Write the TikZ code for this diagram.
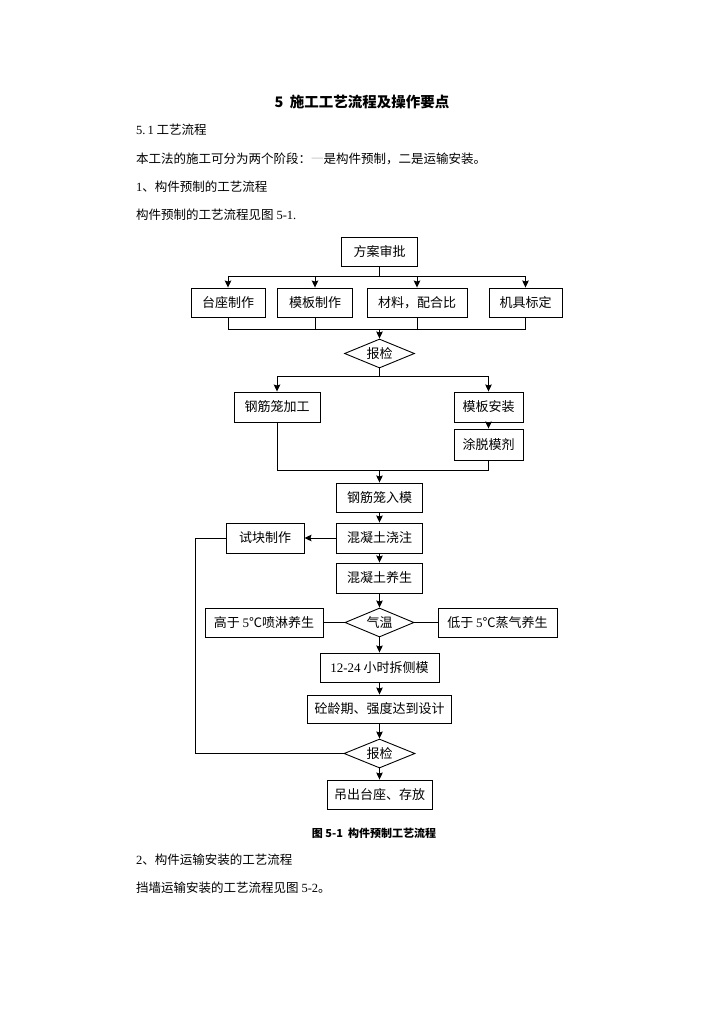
\documentclass[tikz,border=0pt]{standalone}
\usepackage{fontspec}
\setmainfont{Noto Sans CJK SC}
\newfontfamily\tnr{Liberation Serif}
\usetikzlibrary{shapes.geometric,arrows.meta,positioning}

\begin{document}
\begin{tikzpicture}[x=1pt, y=1pt, node distance=41pt, auto]
    \tikzstyle{process} = [rectangle, draw, line width=0.9pt, minimum height=29pt, inner sep=0pt, font=\fontsize{13pt}{15pt}\selectfont]
    \tikzstyle{decision} = [diamond, draw, line width=0.9pt, aspect=2.4, minimum width=70pt, minimum height=29pt, inner sep=0pt, font=\fontsize{13pt}{15pt}\selectfont]
    \tikzstyle{arrow} = [line width=0.9pt, -{Stealth[length=7pt,width=6.5pt,inset=1pt]}]
    \tikzstyle{line} = [line width=0.9pt]
    \tikzstyle{para} = [anchor=west, inner sep=0pt, font=\fontsize{12.5pt}{15pt}\selectfont]

    \useasboundingbox (0,0) rectangle (724,-1024);
    \fill [white] (0,0) rectangle (724,-1024);

    % Heading and text above the chart
    \node [font=\bfseries\fontsize{14.5pt}{17pt}\selectfont] (title) at (362,-102) {5\ \ 施工工艺流程及操作要点};
    \node [para] (sec) at (136,-130) {{\tnr 5.\,1} 工艺流程};
    \node [para] (intro) at (136,-159) {本工法的施工可分为两个阶段：{\color{black!20}一}是构件预制，二是运输安装。};
    \node [para] (step1) at (136,-187) {{\tnr 1}、构件预制的工艺流程};
    \node [para] (ref1) at (136,-215) {构件预制的工艺流程见图 {\tnr 5-1.}};

    % Preparation
    \node [process, minimum width=76pt] (plan) at (379.5,-251.5) {方案审批};
    \node [process, minimum width=74pt, node distance=51pt, below of=plan, xshift=-151.5pt] (taizuo) {台座制作};
    \node [process, minimum width=75pt, node distance=51pt, below of=plan, xshift=-64.5pt] (muban) {模板制作};
    \node [process, minimum width=100pt, node distance=51pt, below of=plan, xshift=37.5pt] (cailiao) {材料，配合比};
    \node [process, minimum width=73pt, node distance=51pt, below of=plan, xshift=146pt] (jiju) {机具标定};

    % First check
    \node [decision, node distance=102pt, below of=plan] (check1) {报检};

    % Cage and formwork
    \node [process, minimum width=86pt, minimum height=30pt, node distance=53.5pt, below of=check1, xshift=-102.5pt] (gangjin) {钢筋笼加工};
    \node [process, minimum width=69pt, minimum height=30pt, node distance=53.5pt, below of=check1, xshift=109pt] (anzhuang) {模板安装};
    \node [process, minimum width=69pt, minimum height=31pt, node distance=37.5pt, below of=anzhuang] (tuomo) {涂脱模剂};

    % Casting and curing
    \node [process, minimum width=86pt, node distance=144pt, below of=check1] (rumo) {钢筋笼入模};
    \node [process, minimum width=86pt, minimum height=30pt, node distance=40.5pt, below of=rumo] (jiaozhu) {混凝土浇注};
    \node [process, minimum width=78pt, minimum height=30pt, node distance=114.5pt, left of=jiaozhu] (shikuai) {试块制作};
    \node [process, minimum width=86pt, minimum height=30pt, node distance=40pt, below of=jiaozhu] (yangsheng) {混凝土养生};
    \node [decision, minimum width=69pt, node distance=44.5pt, below of=yangsheng] (qiwen) {气温};
    \node [process, minimum width=118pt, node distance=115.5pt, left of=qiwen] (gaoyu) {高于 {\tnr 5}℃喷淋养生};
    \node [process, minimum width=119pt, node distance=118pt, right of=qiwen] (diyu) {低于 {\tnr 5}℃蒸气养生};

    % Stripping and final check
    \node [process, minimum width=119pt, node distance=45pt, below of=qiwen] (chaimo) {{\tnr 12-24} 小时拆侧模};
    \node [process, minimum width=144pt, minimum height=28pt, node distance=41.5pt, below of=chaimo] (qiangdu) {砼龄期、强度达到设计};
    \node [decision, minimum width=71pt, node distance=44.5pt, below of=qiangdu] (check2) {报检};
    \node [process, minimum width=105pt, node distance=41pt, below of=check2] (diaochu) {吊出台座、存放};

    % Caption and text below the chart
    \node [font=\bfseries\fontsize{11pt}{13pt}\selectfont] (caption) at (374,-833) {图\ 5-1\ \ 构件预制工艺流程};
    \node [para] (step2) at (136,-860) {{\tnr 2}、构件运输安装的工艺流程};
    \node [para] (ref2) at (136,-888) {挡墙运输安装的工艺流程见图 {\tnr 5-2}。};

    % Split and merge points
    \coordinate [node distance=24.5pt, below of=plan] (split1);
    \coordinate [node distance=24.5pt, above of=check1] (merge1);
    \coordinate [node distance=22.5pt, below of=check1] (split2);
    \coordinate [node distance=27.5pt, above of=rumo] (merge2);
    \coordinate [node distance=184.5pt, left of=check2] (back);

    % Arrows
    \draw [line] (plan) -- (split1);
    \draw [arrow] (split1) -| (taizuo);
    \draw [arrow] (split1) -| (muban);
    \draw [arrow] (split1) -| (cailiao);
    \draw [arrow] (split1) -| (jiju);
    \draw [line] (taizuo) |- (merge1);
    \draw [line] (jiju) |- (merge1);
    \draw [line] (muban) -- (muban |- merge1);
    \draw [line] (cailiao) -- (cailiao |- merge1);
    \draw [arrow] (merge1) -- (check1);
    \draw [line] (check1) -- (split2);
    \draw [arrow] (split2) -| (gangjin);
    \draw [arrow] (split2) -| (anzhuang);
    \draw [arrow] (anzhuang) -- (tuomo);
    \draw [line] (gangjin) |- (merge2);
    \draw [line] (tuomo) |- (merge2);
    \draw [arrow] (merge2) -- (rumo);
    \draw [arrow] (rumo) -- (jiaozhu);
    \draw [arrow] (jiaozhu) -- (shikuai);
    \draw [arrow] (jiaozhu) -- (yangsheng);
    \draw [arrow] (yangsheng) -- (qiwen);
    \draw [line] (qiwen) -- (gaoyu);
    \draw [line] (qiwen) -- (diyu);
    \draw [arrow] (qiwen) -- (chaimo);
    \draw [arrow] (chaimo) -- (qiangdu);
    \draw [arrow] (qiangdu) -- (check2);
    \draw [arrow] (check2) -- (diaochu);
    \draw [line] (shikuai) -| (back) -- (check2);
\end{tikzpicture}
\end{document}
